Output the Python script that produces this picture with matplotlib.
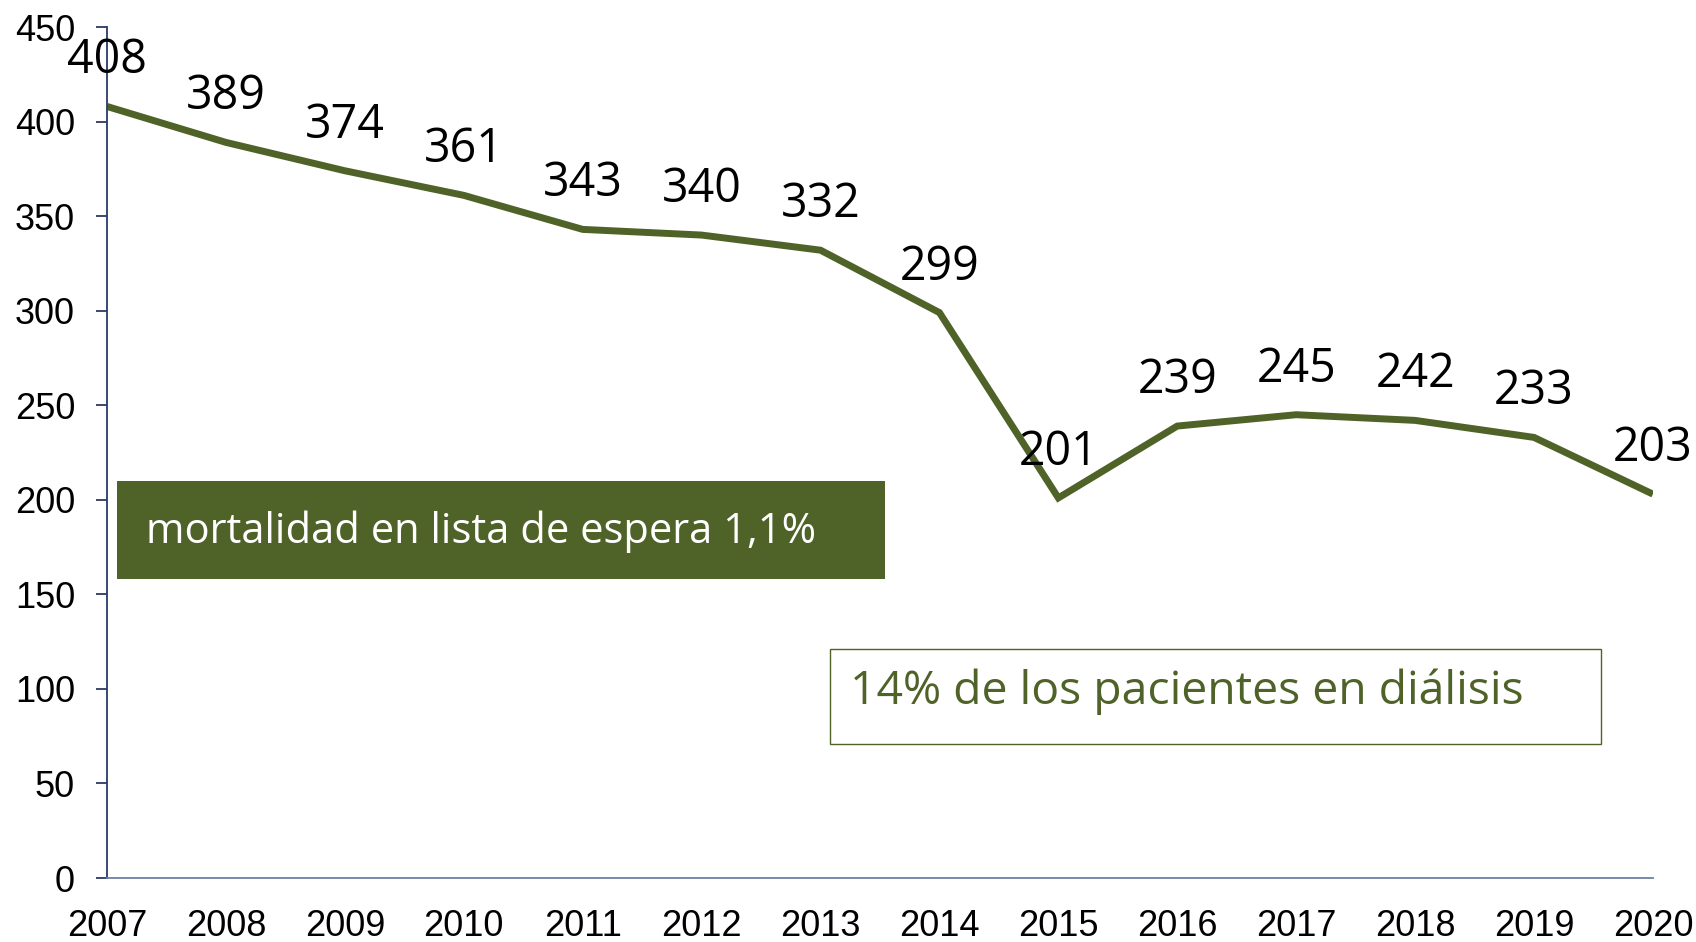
import matplotlib.pyplot as plt
from matplotlib.patches import Rectangle

# datos
years = [2007, 2008, 2009, 2010, 2011, 2012, 2013, 2014, 2015, 2016, 2017, 2018, 2019, 2020]
deaths = [408, 389, 374, 361, 343, 340, 332, 299, 201, 239, 245, 242, 233, 203]
yticks = [0, 50, 100, 150, 200, 250, 300, 350, 400, 450]
box1_text = 'mortalidad en lista de espera 1,1%'
box2_text = '14% de los pacientes en diálisis'

green = '#4F6228'
label_font = ['Open Sans', 'DejaVu Sans']

fig = plt.figure(figsize=(16.96, 9.42), dpi=100)
ax = fig.add_axes([0.0631, 0.0679, 0.9115, 0.9034])

ax.plot(years, deaths, color=green, lw=5, solid_capstyle='butt', solid_joinstyle='miter')
for x, y in zip(years, deaths):
    ax.annotate(str(y), (x, y), xytext=(0, 33), textcoords='offset points',
                ha='center', va='center', fontsize=33.5, family=label_font,
                color='black', annotation_clip=False)

ax.set_xlim(years[0], years[-1])
ax.set_ylim(0, 450)
ax.set_xticks(years)
ax.set_yticks(yticks)
for s in ['top', 'right']:
    ax.spines[s].set_visible(False)
ax.spines['left'].set_color('#2B3A67')
ax.spines['left'].set_linewidth(1.3)
ax.spines['bottom'].set_color('#6E7FA3')
ax.spines['bottom'].set_linewidth(1.3)
ax.tick_params(axis='y', direction='out', length=8, width=1.3, color='#2B3A67',
               pad=15, labelsize=26)
ax.tick_params(axis='x', length=0, pad=22, labelsize=26)
for lab in ax.get_xticklabels() + ax.get_yticklabels():
    lab.set_family(['Liberation Sans', 'DejaVu Sans'])

# cuadros de texto
fig.patches.append(Rectangle((0.069, 0.3854), 0.4528, 0.104, transform=fig.transFigure,
                             facecolor=green, edgecolor='none', zorder=5))
fig.text(0.0861, 0.4352, box1_text, color='white', fontsize=30, family=label_font,
         ha='left', va='center', zorder=6)
fig.patches.append(Rectangle((0.4894, 0.2102), 0.4546, 0.1008, transform=fig.transFigure,
                             facecolor='white', edgecolor=green, lw=1, zorder=5))
fig.text(0.5012, 0.2654, box2_text, color=green, fontsize=33.3, family=label_font,
         ha='left', va='center', zorder=6)

fig.savefig('out.png', dpi=100)
